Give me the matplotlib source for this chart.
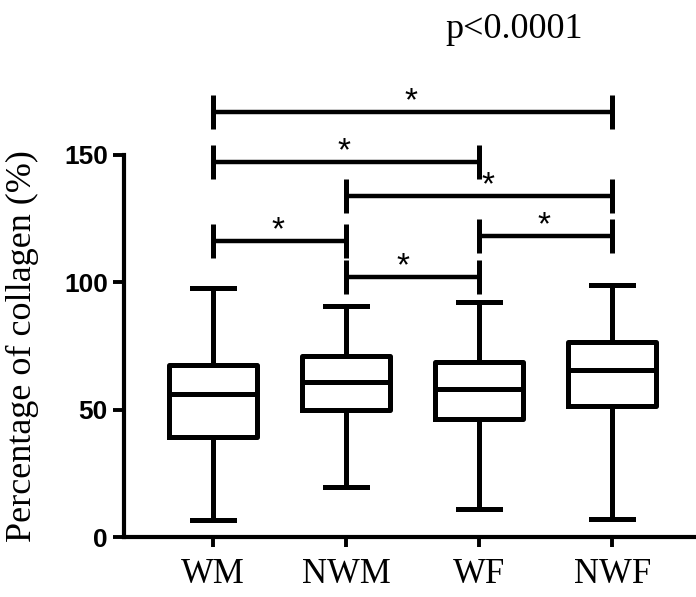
import matplotlib
matplotlib.use('Agg')
import matplotlib.pyplot as plt
from matplotlib import font_manager as fm

groups = ['WM', 'NWM', 'WF', 'NWF']
whislo = [6.5, 19.5, 11.0, 7.0]
q1 = [39.4, 49.9, 46.3, 51.4]
med = [56.0, 60.7, 58.0, 65.6]
q3 = [67.5, 71.1, 68.6, 76.7]
whishi = [97.6, 90.7, 92.4, 98.9]

# significance brackets: (left group, right group, height)
pairs = [(0, 3, 167.0), (0, 2, 147.4), (1, 3, 133.9),
         (0, 1, 116.3), (2, 3, 118.2), (1, 2, 102.2)]
# small horizontal nudges of the stars (in group units)
star_shift = [-0.015, -0.015, 0.07, -0.015, -0.01, -0.07]


def find_font(name):
    for f in fm.findSystemFonts():
        if f.split('/')[-1] == name:
            return f
    return None


serif_file = find_font('LiberationSerif-Regular.ttf')
sans_bold_file = find_font('LiberationSans-Bold.ttf')
sans_file = find_font('LiberationSans-Regular.ttf')


def fp(path, size, fallback='serif', weight='normal'):
    if path:
        return fm.FontProperties(fname=path, size=size)
    return fm.FontProperties(family=fallback, size=size, weight=weight)


lw = 3.6
fig = plt.figure(figsize=(6.96, 5.97), dpi=100)
ax = fig.add_axes([0.178, 0.1005, 0.822, 0.799])

stats = []
for i in range(len(groups)):
    stats.append({'whislo': whislo[i], 'q1': q1[i], 'med': med[i],
                  'q3': q3[i], 'whishi': whishi[i], 'fliers': []})

pos = [1, 2, 3, 4]
ax.bxp(stats, positions=pos, widths=0.66, capwidths=0.32, showfliers=False,
       boxprops=dict(color='black', linewidth=lw),
       medianprops=dict(color='black', linewidth=lw),
       whiskerprops=dict(color='black', linewidth=lw),
       capprops=dict(color='black', linewidth=lw))

for (a, b, h), s in zip(pairs, star_shift):
    x1, x2 = pos[a], pos[b]
    ax.plot([x1, x2], [h, h], color='black', lw=3.2, solid_capstyle='butt')
    ax.plot([x1, x1], [h - 6.7, h + 6.7], color='black', lw=3.6, solid_capstyle='butt')
    ax.plot([x2, x2], [h - 6.7, h + 6.7], color='black', lw=3.6, solid_capstyle='butt')
    ax.text((x1 + x2) / 2 + s, h + 0.7, '*', ha='center', va='baseline',
            fontproperties=fp(sans_file, 24, 'sans-serif'))

ax.set_xlim(0.33, 4.63)
ax.set_ylim(0, 187.3)
ax.set_yticks([0, 50, 100, 150])
ax.set_xticks(pos)
ax.set_xticklabels(groups)
for t in ax.get_xticklabels():
    t.set_fontproperties(fp(serif_file, 25))
for t in ax.get_yticklabels():
    t.set_fontproperties(fp(sans_bold_file, 19, 'sans-serif', 'bold'))

ax.spines['top'].set_visible(False)
ax.spines['right'].set_visible(False)
ax.spines['left'].set_bounds(0, 150)
ax.spines['left'].set_linewidth(3.0)
ax.spines['bottom'].set_linewidth(3.0)
ax.tick_params(axis='y', length=8, width=2.8, pad=3.5)
ax.tick_params(axis='x', length=7, width=2.8, pad=8)

ax.set_ylabel('Percentage of collagen (%)', fontproperties=fp(serif_file, 26))
ax.yaxis.set_label_coords(-0.149, 75 / 187.3)

fig.text(514 / 696, 1 - 38 / 597, 'p<0.0001', fontproperties=fp(serif_file, 26),
         ha='center', va='baseline')

fig.savefig('out.png', dpi=100)
